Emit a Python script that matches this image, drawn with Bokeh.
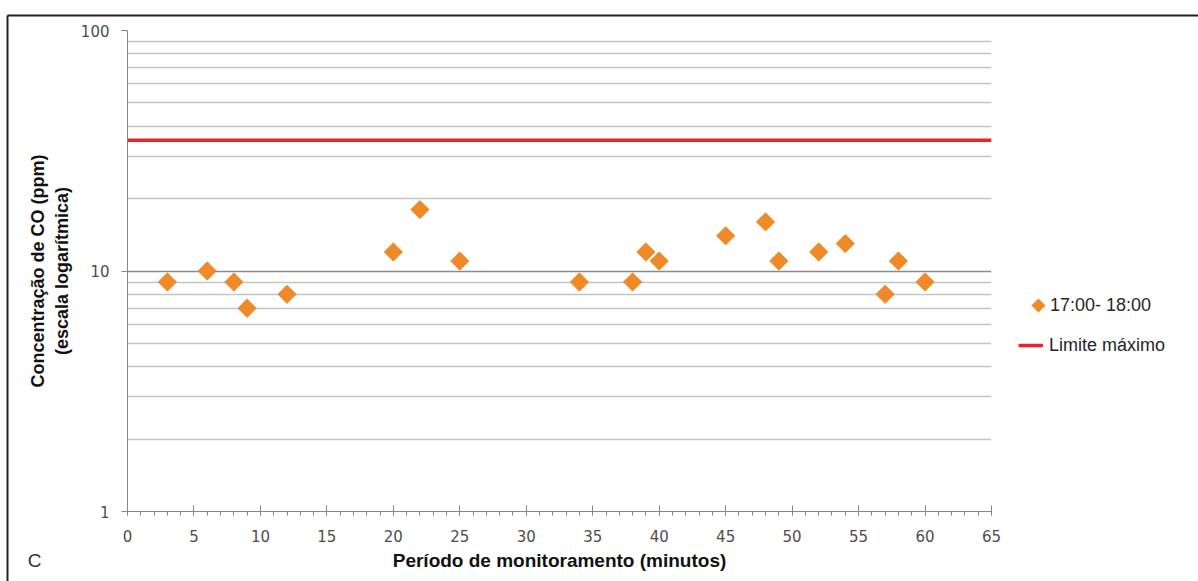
import math
from bokeh.plotting import figure
from bokeh.models import (Span, Legend, LegendItem, Label, FixedTicker,
                          NumeralTickFormatter, SingleIntervalTicker, Range1d)
from bokeh.embed import file_html
from bokeh.resources import INLINE

# ---- data ----
minutes = [3, 6, 8, 9, 12, 20, 22, 25, 34, 38, 39, 40, 45, 48, 49, 52, 54, 57, 58, 60]
co_ppm = [9, 10, 9, 7, 8, 12, 18, 11, 9, 9, 12, 11, 14, 16, 11, 12, 13, 8, 11, 9]
limite_maximo = 35
series_label = "17:00- 18:00"
limit_label = "Limite máximo"
x_min, x_max = 0, 65
y_min, y_max = 1, 100
y_major_ticks = [1, 10, 100]
y_minor_ticks = [2, 3, 4, 5, 6, 7, 8, 9, 20, 30, 40, 50, 60, 70, 80, 90]
x_title = "Período de monitoramento (minutos)"
y_title = "Concentração de CO (ppm)\n(escala logarítmica)"
panel_letter = "C"

W, H = 1198, 581
ORANGE = "#F08A26"
ORANGE_EDGE = "#E07A1A"
RED = "#E8232B"
TICK_FONT = "DejaVu Sans"
TITLE_FONT = "Liberation Sans"
NAN = float("nan")

# ---------------- main chart ----------------
p = figure(width=W, height=H, y_axis_type="log",
           x_range=Range1d(x_min, x_max), y_range=Range1d(y_min, y_max),
           output_backend="svg", toolbar_location=None,
           min_border_left=127, min_border_right=207,
           min_border_top=30, min_border_bottom=70)
p.outline_line_color = None
p.background_fill_color = "white"
p.border_fill_color = "white"

p.xgrid.grid_line_color = None
p.ygrid.grid_line_color = "#8a8a8a"
p.ygrid.grid_line_width = 1.3
p.ygrid.minor_grid_line_color = "#c4c4c4"
p.ygrid.minor_grid_line_width = 1.3

p.yaxis.ticker = FixedTicker(ticks=y_major_ticks, minor_ticks=y_minor_ticks)
p.yaxis.formatter = NumeralTickFormatter(format="0")
p.yaxis.axis_line_color = "#868686"
p.yaxis.major_tick_line_color = "#868686"
p.yaxis.major_tick_in = 0
p.yaxis.major_tick_out = 6
p.yaxis.minor_tick_line_color = None
p.yaxis.major_label_standoff = 12
p.yaxis.major_label_text_font = TICK_FONT
p.yaxis.major_label_text_font_size = "15px"
p.yaxis.major_label_text_color = "#4d4d4d"
p.yaxis.axis_label = y_title
p.yaxis.axis_label_text_font = TITLE_FONT
p.yaxis.axis_label_text_font_style = "bold"
p.yaxis.axis_label_text_font_size = "18px"
p.yaxis.axis_label_text_color = "#111111"
p.yaxis.axis_label_standoff = 6

p.xaxis.ticker = SingleIntervalTicker(interval=5, num_minor_ticks=5)
p.xaxis.axis_line_color = "#868686"
p.xaxis.major_tick_line_color = "#868686"
p.xaxis.minor_tick_line_color = "#868686"
p.xaxis.major_tick_in = 6
p.xaxis.major_tick_out = 4
p.xaxis.minor_tick_in = 0
p.xaxis.minor_tick_out = 4
p.xaxis.major_label_standoff = 14
p.xaxis.major_label_text_font = TICK_FONT
p.xaxis.major_label_text_font_size = "15px"
p.xaxis.major_label_text_color = "#4d4d4d"
p.xaxis.axis_label = x_title
p.xaxis.axis_label_text_font = TITLE_FONT
p.xaxis.axis_label_text_font_style = "bold"
p.xaxis.axis_label_text_font_size = "19px"
p.xaxis.axis_label_text_color = "#111111"
p.xaxis.axis_label_standoff = 5

p.add_layout(Span(location=limite_maximo, dimension="width",
                  line_color=RED, line_width=3.5))

p.scatter(x=minutes, y=co_ppm, marker="square", angle=math.pi / 4,
          size=13, fill_color=ORANGE, line_color=ORANGE_EDGE, line_width=0.6)

# ---------------- transparent overlay (legend, letter, border) ----------------
ov = figure(width=W, height=H, x_range=Range1d(0, W), y_range=Range1d(0, H),
            output_backend="svg", toolbar_location=None,
            x_axis_location=None, y_axis_location=None,
            min_border=0, min_border_left=0, min_border_right=0,
            min_border_top=0, min_border_bottom=0)
ov.styles = {"position": "absolute", "top": "0px", "left": "0px"}
ov.grid.visible = False
ov.outline_line_color = None
ov.background_fill_color = None
ov.border_fill_color = None

# page border (top and left edges)
ov.segment(x0=[7, 7], y0=[H - 15, 0], x1=[W, 7], y1=[H - 15, H - 15],
           line_color="#222222", line_width=2)

# legend key symbol for the point series (rotated square = diamond)
ov.scatter(x=[1038], y=[H - 305], marker="square", angle=math.pi / 4,
           size=9.4, fill_color=ORANGE, line_color=ORANGE_EDGE, line_width=0.5)

# legend proxies
leg_pts = ov.scatter(x=[NAN], y=[NAN], marker="square", fill_alpha=0, line_alpha=0)
leg_line = ov.line(x=[NAN], y=[NAN], line_color=RED, line_width=3.5)

common = dict(padding=0, spacing=0, margin=0, border_line_color=None,
              background_fill_alpha=0, label_text_font=TITLE_FONT,
              label_text_font_size="18px", label_text_color="#262626")
ov.add_layout(Legend(items=[LegendItem(label=series_label, renderers=[leg_pts], index=0)],
                     location=(1026, H - 317), glyph_width=24, glyph_height=24,
                     label_standoff=-1, **common))
ov.add_layout(Legend(items=[LegendItem(label=limit_label, renderers=[leg_line], index=0)],
                     location=(1018, H - 357), glyph_width=25, glyph_height=24,
                     label_standoff=6, **common))

ov.add_layout(Label(x=34, y=H - 560, text=panel_letter, text_align="center",
                    text_baseline="middle", text_font=TITLE_FONT,
                    text_font_size="19px", text_color="#333333"))

open("out.html", "w").write(file_html([p, ov], INLINE))
